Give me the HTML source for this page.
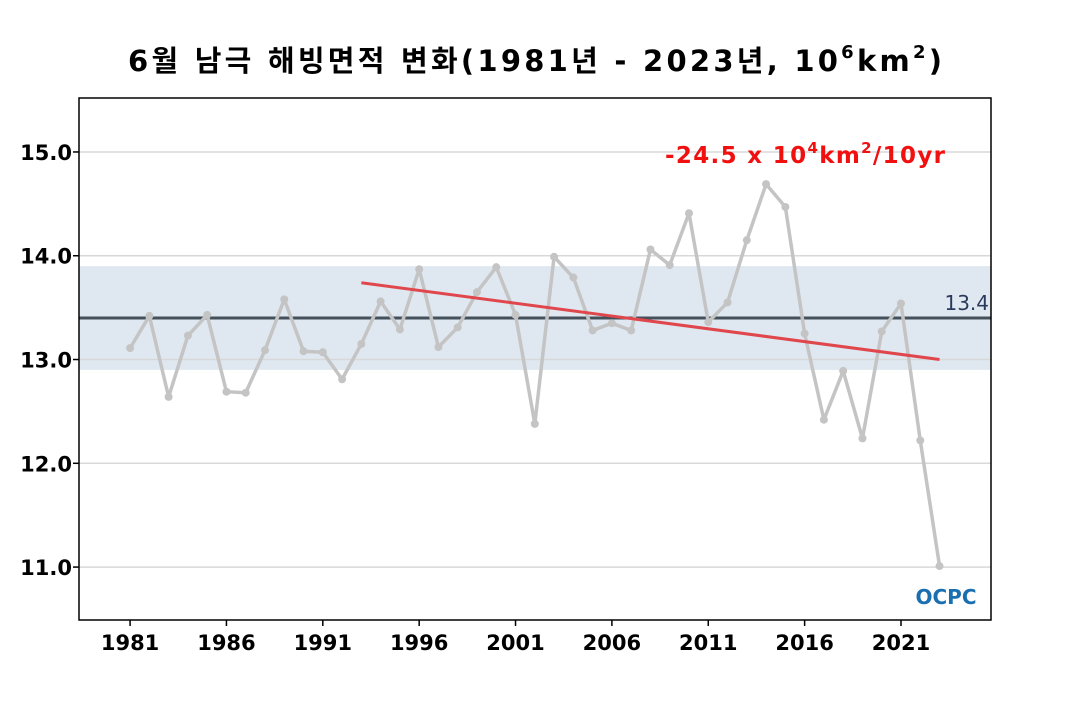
<!DOCTYPE html>
<html><head><meta charset="utf-8"><style>
body{margin:0;background:#fff;}
svg text{font-family:"DejaVu Sans","Noto Sans CJK KR",sans-serif;}
</style></head><body>
<svg id="c" width="1070" height="700">
<text x="128" y="71" textLength="814" lengthAdjust="spacing" font-size="29" font-weight="bold" fill="#000">6월 남극 해빙면적 변화(1981년 - 2023년, 10<tspan dy="-13" font-size="18">6</tspan><tspan dy="13">km</tspan><tspan dy="-13" font-size="18">2</tspan><tspan dy="13">)</tspan></text>
<g id="plot"></g>
</svg>
<script>
const years=[1981,1982,1983,1984,1985,1986,1987,1988,1989,1990,1991,1992,1993,1994,1995,1996,1997,1998,1999,2000,2001,2002,2003,2004,2005,2006,2007,2008,2009,2010,2011,2012,2013,2014,2015,2016,2017,2018,2019,2020,2021,2022,2023];
const extent=[13.11,13.42,12.64,13.23,13.43,12.69,12.68,13.09,13.58,13.08,13.07,12.81,13.15,13.56,13.29,13.87,13.12,13.31,13.65,13.89,13.43,12.38,13.99,13.79,13.28,13.35,13.28,14.06,13.91,14.41,13.36,13.55,14.15,14.69,14.47,13.25,12.42,12.89,12.24,13.27,13.54,12.22,11.01];
const yTicks=[11.0,12.0,13.0,14.0,15.0];
const xTicks=[1981,1986,1991,1996,2001,2006,2011,2016,2021];
const meanVal=[13.4];
const band=[12.9,13.9];
const trendYears=[1993,2023];
const trendVals=[13.74,13.00];
const NS='http://www.w3.org/2000/svg';
const L=79,R=991,T=98,B=620;
const x=v=>L+(v-1978.35)/(2025.67-1978.35)*(R-L);
const y=v=>B-(v-10.49)/(15.52-10.49)*(B-T);
const g=document.getElementById('plot');
function mk(tag,a,p){const e=document.createElementNS(NS,tag);for(const k in a)e.setAttribute(k,a[k]);(p||g).appendChild(e);return e;}
let e;
e=mk('rect',{x:L,y:y(band[1]),width:R-L,height:y(band[0])-y(band[1]),fill:'#dfe8f1'});


yTicks.forEach(t=>{
 e=mk('line',{x1:L,x2:R,y1:y(t),y2:y(t),stroke:'#d8d8d8','stroke-width':1.5});
 
 
 mk('line',{x1:L-6,x2:L,y1:y(t),y2:y(t),stroke:'#000','stroke-width':1.5});
 e=mk('text',{x:L-7,y:y(t)+8,'text-anchor':'end','font-size':21,'font-weight':'bold'});
 e.textContent=t.toFixed(1);
 
 
});
xTicks.forEach(t=>{
 mk('line',{x1:x(t),x2:x(t),y1:B,y2:B+6,stroke:'#000','stroke-width':1.5});
 e=mk('text',{x:x(t),y:B+30,'text-anchor':'middle','font-size':21,'font-weight':'bold'});
 e.textContent=t;
 
 
});
e=mk('line',{x1:L,x2:R,y1:y(meanVal[0]),y2:y(meanVal[0]),stroke:'#44505a','stroke-width':3});


e=mk('text',{x:R-2,y:y(meanVal[0])-8,'text-anchor':'end','font-size':20,fill:'#2b3a5c'});
e.textContent=meanVal[0].toFixed(1);


e=mk('polyline',{points:years.map((yr,i)=>x(yr)+','+y(extent[i])).join(' '),fill:'none',stroke:'#c4c4c4','stroke-width':3.5,'stroke-linejoin':'round'});


years.forEach((yr,i)=>{
 e=mk('circle',{cx:x(yr),cy:y(extent[i]),r:4,fill:'#c4c4c4'});
 
 
});
e=mk('line',{x1:x(trendYears[0]),y1:y(trendVals[0]),x2:x(trendYears[1]),y2:y(trendVals[1]),stroke:'#e0474c','stroke-width':3});


e=mk('text',{x:665,y:163,textLength:280,lengthAdjust:'spacing','font-size':23,'font-weight':'bold',fill:'#f01010'});
e.innerHTML='-24.5 x 10<tspan dy="-10" font-size="15">4</tspan><tspan dy="10">km</tspan><tspan dy="-10" font-size="15">2</tspan><tspan dy="10">/10yr</tspan>';


e=mk('rect',{x:L,y:T,width:R-L,height:B-T,fill:'none',stroke:'#000','stroke-width':1.5});


e=mk('text',{x:946,y:604,'text-anchor':'middle','font-size':20,'font-weight':'bold',fill:'#1a6fb0'});
e.textContent='OCPC';


</script>
</body></html>
